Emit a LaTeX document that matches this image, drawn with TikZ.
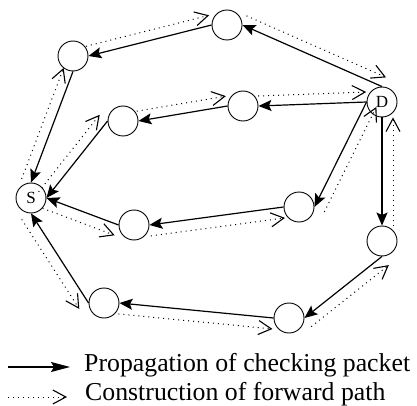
\documentclass[tikz,border=0pt]{standalone}
\usepackage{fontspec}
\setmainfont{Liberation Serif}
\usetikzlibrary{arrows.meta,calc}

\begin{document}
\begin{tikzpicture}[x=1pt, y=-1pt,
    hop/.style={circle, draw, line width=0.9pt, minimum size=30pt, inner sep=0pt, font=\fontsize{17}{17}\selectfont},
    chk/.style={line width=1.2pt, -{Stealth[length=13pt, width=11pt, inset=2.5pt]}},
    fwd/.style={line width=1pt, dash pattern=on 1pt off 4pt, -{Straight Barb[length=13pt, width=14pt, line width=1.1pt]}},
    legend/.style={anchor=base west, inner sep=0pt, font=\fontsize{25.8}{30}\selectfont}]
    \useasboundingbox (0,0) rectangle (417,406);

    % Source, destination and relay nodes
    \node[hop] (S) at (31,198) {S};
    \node[hop] (D) at (382,102) {D};
    \node[hop] (t1) at (73,56) {};
    \node[hop] (t2) at (227,25) {};
    \node[hop] (u1) at (123,121) {};
    \node[hop] (u2) at (243,106) {};
    \node[hop] (l1) at (134,225) {};
    \node[hop] (l2) at (299,207) {};
    \node[hop] (b1) at (104,303) {};
    \node[hop] (b2) at (289,318) {};
    \node[hop] (b3) at (382,241) {};

    % Checking packet, D back to S
    \draw[chk] (D.north) -- (t2.east);
    \draw[chk] (t2.west) -- (t1.east);
    \draw[chk] (t1.south) -- (S.north);
    \draw[chk] (D.west) -- (u2.east);
    \draw[chk] (u2.west) -- (u1.east);
    \draw[chk] (u1.west) -- (S.east);
    \draw[chk] (D.west) -- (l2.east);
    \draw[chk] (l2.west) -- (l1.east);
    \draw[chk] (l1.west) -- (S.east);
    \draw[chk] (D.south) -- (b3.north);
    \draw[chk] (b3.south) -- (b2.east);
    \draw[chk] (b2.west) -- (b1.east);
    \draw[chk] (b1.west) -- (S.south);

    % Forward path, S on to D (outer side)
    \foreach \a/\b in {S.north/t1.south, t1.east/t2.west, t2.east/D.north,
                       S.east/u1.west, u1.east/u2.west, u2.east/D.west}
        \draw[fwd] ($(\a)!10pt!90:(\b)$) -- ($(\b)!10pt!-90:(\a)$);
    \foreach \a/\b in {S.east/l1.west, l1.east/l2.west, l2.east/D.west,
                       S.south/b1.west, b1.east/b2.west, b2.east/b3.south, b3.north/D.south}
        \draw[fwd] ($(\a)!11pt!-90:(\b)$) -- ($(\b)!11pt!90:(\a)$);

    % Legend
    \coordinate (k0) at (8,367);
    \coordinate (k1) at (70,367);
    \draw[line width=1.2pt, -{Stealth[length=19pt, width=10pt, inset=3pt]}] (k0) -- (k1);
    \node[legend] (lg1) at (84,371) {Propagation of checking packet};
    \coordinate (f0) at (8,397);
    \coordinate (f1) at (67,397);
    \draw[fwd] (f0) -- (f1);
    \node[legend] (lg2) at (85,400) {Construction of forward path};
\end{tikzpicture}
\end{document}
